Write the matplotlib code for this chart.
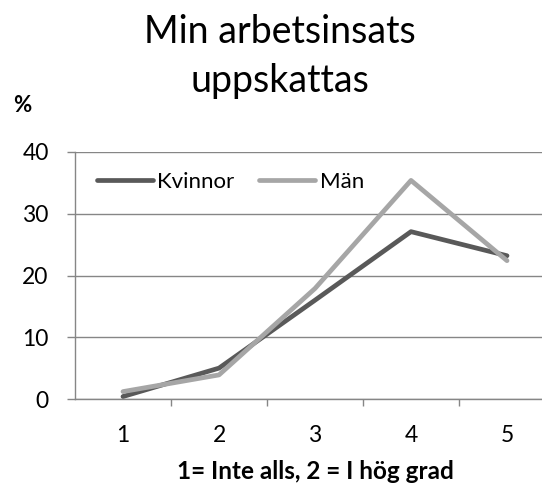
import matplotlib.pyplot as plt

categories = ["1", "2", "3", "4", "5"]
kvinnor = [0.4, 5.0, 16.0, 27.1, 23.2]
man = [1.2, 3.9, 17.9, 35.4, 22.4]

plt.rcParams['font.family'] = ['Lato', 'DejaVu Sans']

W, H = 542, 487
fig = plt.figure(figsize=(W / 100, H / 100), dpi=100)
# axes deliberately runs past the right edge, like the source
ax = fig.add_axes([75 / W, (H - 399) / H, 480 / W, 247 / H])

x = list(range(1, len(categories) + 1))
ax.plot(x, kvinnor, color="#595959", lw=3.4, label="Kvinnor", solid_capstyle="round")
ax.plot(x, man, color="#A6A6A6", lw=3.4, label="Män", solid_capstyle="round")

ax.set_xlim(0.5, 5.5)
ax.set_ylim(0, 40)
ax.set_yticks([0, 10, 20, 30, 40])
ax.set_xticks(x)
ax.set_xticklabels(categories)
ax.set_xticks([1.5, 2.5, 3.5, 4.5], minor=True)
ax.tick_params(axis="x", which="major", length=0, pad=19, labelsize=16.5)
ax.tick_params(axis="x", which="minor", length=5, color="#868686", width=1, direction="out")
ax.tick_params(axis="y", length=6, color="#868686", width=1, pad=13, labelsize=16.5)

ax.grid(axis="y", color="#868686", lw=1)
ax.set_axisbelow(True)
for s in ["top", "right"]:
    ax.spines[s].set_visible(False)
for s in ["left", "bottom"]:
    ax.spines[s].set_color("#868686")
    ax.spines[s].set_linewidth(1)

ax.set_xlabel("1= Inte alls, 2 = I hög grad", fontsize=17.5, fontweight="bold", labelpad=10)

# title in two lines, placed by baseline
fig.text(280 / W, 1 - 43 / H, "Min arbetsinsats", ha="center", va="baseline", fontsize=27)
fig.text(280 / W, 1 - 92 / H, "uppskattas", ha="center", va="baseline", fontsize=27)
fig.text(13 / W, 1 - 105 / H, "%", ha="left", va="center", fontsize=16, fontweight="bold")

ax.legend(loc="center left", bbox_to_anchor=(97 / W, 1 - 182 / H), bbox_transform=fig.transFigure,
          ncol=2, frameon=False, fontsize=16, borderpad=0, borderaxespad=0,
          handlelength=2.5, handletextpad=0.22, columnspacing=1.1)

fig.savefig("out.png", dpi=100)
